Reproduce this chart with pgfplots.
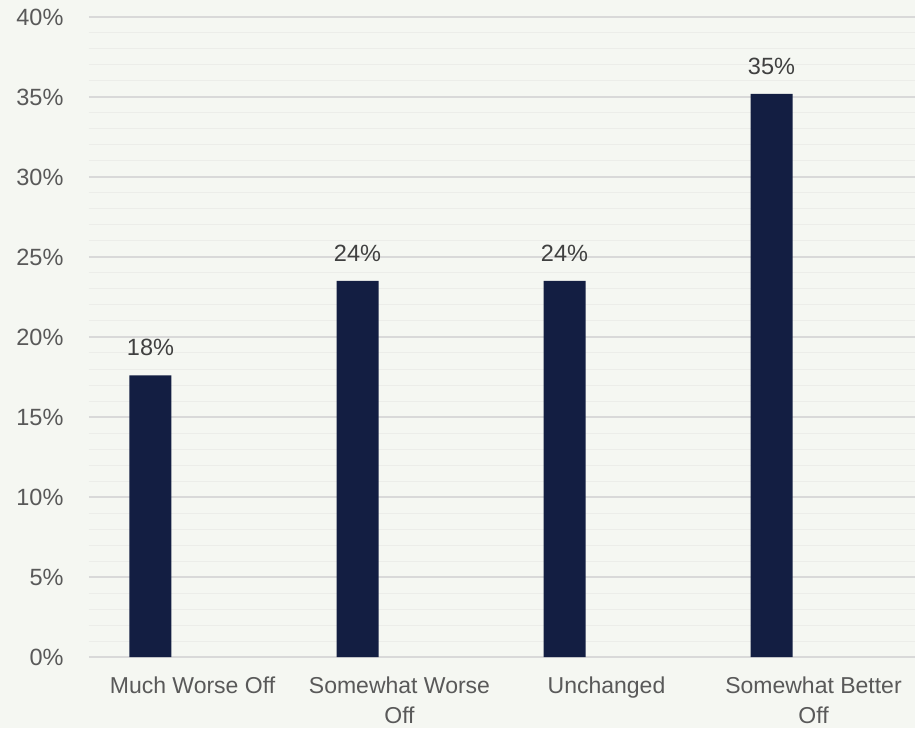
\documentclass[border=0pt]{standalone}
\usepackage{pgfplots}
\pgfplotsset{compat=1.18}
\usepackage{fontspec}
\setmainfont{Liberation Sans}
\definecolor{bg}{HTML}{F5F7F2}
\definecolor{barc}{HTML}{131E42}
\definecolor{majg}{HTML}{D9D9D9}
\definecolor{ming}{HTML}{ECEDE9}
\definecolor{tickc}{HTML}{595959}
\definecolor{labc}{HTML}{404040}
\begin{document}
\begin{tikzpicture}
\fill[bg] (-89pt,-71pt) rectangle (826pt,657pt);
\begin{axis}[
  at={(0pt,0pt)}, anchor=south west,
  scale only axis, width=828pt, height=640pt,
  xmin=-0.5, xmax=3.5, ymin=0, ymax=40,
  axis line style={draw=none},
  ybar, bar width=42pt, bar shift=-42pt,
  xtick={0,1,2,3},
  xticklabels={Much Worse Off, {Somewhat Worse\\Off}, Unchanged, {Somewhat Better\\Off}},
  xticklabel style={align=center, font=\fontsize{23}{30}\selectfont, text=tickc, yshift=-16pt},
  ytick={0,5,...,40},
  minor ytick={1,2,3,4,6,7,8,9,11,12,13,14,16,17,18,19,21,22,23,24,26,27,28,29,31,32,33,34,36,37,38,39},
  yticklabel={\pgfmathprintnumber{\tick}\%},
  yticklabel style={font=\fontsize{23.5}{26}\selectfont, text=tickc, xshift=-22pt},
  /pgf/number format/assume math mode=true,
  major tick length=0pt, minor tick length=0pt,
  ymajorgrids, yminorgrids,
  major grid style={majg, line width=1.3pt},
  minor grid style={ming, line width=1pt},
  nodes near coords={\pgfmathprintnumber[fixed,precision=0]{\pgfplotspointmeta}\%},
  nodes near coords style={font=\fontsize{23.5}{26}\selectfont, text=labc, anchor=south, yshift=16pt},
  point meta=explicit,
]
\addplot[fill=barc, draw=none] coordinates {(0,17.6) [18] (1,23.5) [24] (2,23.5) [24] (3,35.2) [35]};
\end{axis}
\pgfresetboundingbox
\path (-89pt,-71pt) rectangle (826pt,657pt);
\end{tikzpicture}
\end{document}
